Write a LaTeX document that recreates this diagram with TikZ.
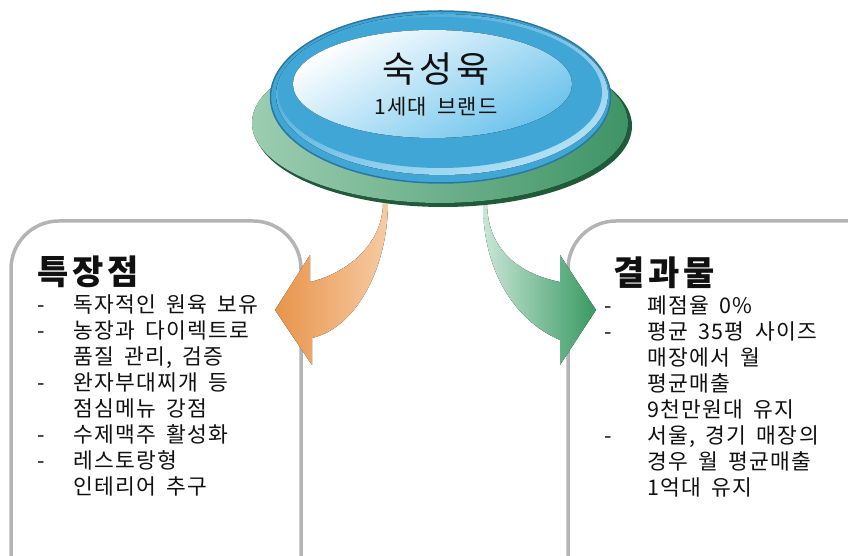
\documentclass[tikz,border=0pt]{standalone}
\usepackage{fontspec}
\setmainfont{Noto Sans CJK KR}
\newfontfamily\koLoose{Noto Sans CJK KR}[LetterSpace=6,WordSpace=1.7]
\newfontfamily\koWide{Noto Sans CJK KR}[LetterSpace=10,WordSpace=2]
\newfontfamily\koHead{Noto Sans CJK KR}[LetterSpace=11]
\usetikzlibrary{positioning}
\definecolor{bxGray}  {HTML}{B4B4B4}
\definecolor{bxInk}   {HTML}{111111}
\definecolor{bxRim}   {HTML}{2C76A2}
\definecolor{bxBlue}  {HTML}{3FA6D6}
\definecolor{bxSky}   {HTML}{B4E2F6}
\definecolor{bxCore}  {HTML}{6CC3EC}
\definecolor{bxLeaf}  {HTML}{9CCDB1}
\definecolor{bxMoss}  {HTML}{3E9466}
\definecolor{bxPine}  {HTML}{1F5A39}
\definecolor{bxFlame} {HTML}{E8944A}
\definecolor{bxPeach} {HTML}{F6CBA3}
\definecolor{bxMint}  {HTML}{C9E6D6}
\definecolor{bxJade}  {HTML}{389963}

\begin{document}
\begin{tikzpicture}[x=1pt,y=1pt,
      panel/.style={draw=bxGray,line width=3.5pt,rounded corners=48pt,fill=white},
      heading/.style={anchor=west,inner sep=0pt,text=bxInk,
                      font=\fontsize{34}{38}\koHead\bfseries},
      itemlist/.style={anchor=north west,inner sep=0pt,text=bxInk,
                       font=\fontsize{21.5}{26}\koLoose}]
    \useasboundingbox (0,0) rectangle (848,556);
    \clip (0,0) rectangle (848,556);

    % two panels
    \draw[panel] (11,335) rectangle (301,-60);
    \draw[panel] (568,335) rectangle (900,-60);

    % curved block arrows
    \fill[left color=bxFlame,right color=bxPeach]
      (388,352) .. controls (387,285) and (355,228) .. (312,218)
      -- (312,191) -- (275,246) -- (310,301) -- (310,274)
      .. controls (345,282) and (382,310) .. (383,352) -- cycle;
    \fill[left color=bxMint,right color=bxJade]
      (483,352) .. controls (483,285) and (515,235) .. (560,216)
      -- (560,191) -- (596,246) -- (560,301) -- (560,274)
      .. controls (520,282) and (488,305) .. (487,352) -- cycle;

    % button
    \fill[bxPine] (443,430) ellipse (189 and 81);
    \fill[left color=bxLeaf,right color=bxMoss] (440,433) ellipse (188 and 80);
    \fill[bxBlue,draw=bxRim,line width=1.5pt] (440.5,459) ellipse (170 and 86);
    \fill[top color=bxBlue,bottom color=bxSky,shading angle=25]
      (442,461.5) ellipse (166 and 80.5);
    \fill[bxBlue] (440,463.5) ellipse (162 and 75.5);
    \fill[top color=white,bottom color=bxCore,shading angle=30]
      (432.5,472) ellipse (139.5 and 54);

    \node[inner sep=0pt,text=bxInk,font=\fontsize{36}{40}\koWide] (brand) at (436,487) {숙성육};
    \node[inner sep=0pt,text=bxInk,font=\fontsize{21}{24}\koLoose,below=11pt of brand] (era) {1세대 브랜드};

    % left panel text
    \node[heading] (feat) at (37,284) {특장점};
    \node[itemlist] (featlist) at (37,262) {\begin{tabular}{@{}p{36pt}@{}l@{}}
      - & 독자적인 원육 보유\\
      - & 농장과 다이렉트로\\
        & 품질 관리, 검증\\
      - & 완자부대찌개 등\\
        & 점심메뉴 강점\\
      - & 수제맥주 활성화\\
      - & 레스토랑형\\
        & 인테리어 추구
    \end{tabular}};

    % right panel text
    \node[heading] (res) at (613,283) {결과물};
    \node[itemlist] (reslist) at (604,261) {\begin{tabular}{@{}p{43pt}@{}l@{}}
      - & 폐점율 0\%\\
      - & 평균 35평 사이즈\\
        & 매장에서 월\\
        & 평균매출\\
        & 9천만원대 유지\\
      - & 서울, 경기 매장의\\
        & 경우 월 평균매출\\
        & 1억대 유지
    \end{tabular}};
  \end{tikzpicture}
\end{document}
